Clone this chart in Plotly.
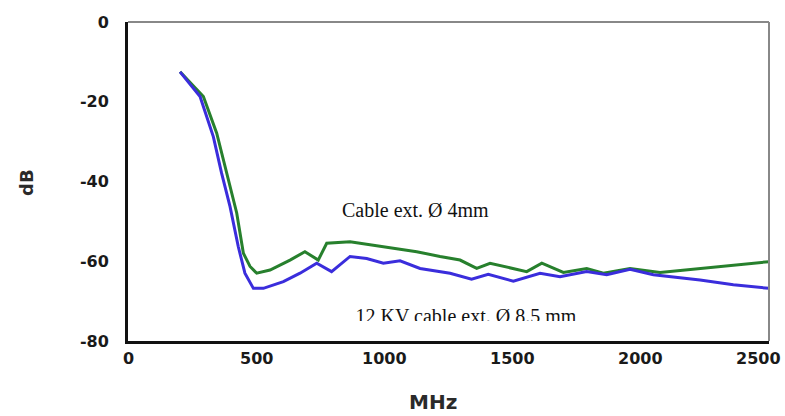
import plotly.graph_objects as go

# Shielding attenuation vs frequency for two cable types
freq_4mm = [203, 294, 346, 385, 424, 450, 476, 502, 554, 632, 690, 742, 775, 866, 996,
            1126, 1217, 1295, 1360, 1412, 1555, 1614, 1698, 1789, 1854, 1958, 2075,
            2231, 2361, 2500]
db_4mm = [-12.5, -18.7, -27.9, -37.9, -47.9, -58.0, -61.3, -63.0, -62.2, -59.7, -57.6,
          -59.7, -55.5, -55.1, -56.3, -57.6, -58.8, -59.7, -61.8, -60.5, -62.6, -60.5,
          -62.8, -61.8, -63.0, -61.8, -62.8, -61.8, -60.9, -60.1]

freq_85mm = [203, 281, 333, 365, 398, 430, 456, 489, 528, 606, 671, 736, 794, 866, 931,
             996, 1061, 1139, 1256, 1340, 1405, 1503, 1607, 1685, 1789, 1867, 1958, 2049,
             2231, 2361, 2500]
db_85mm = [-12.5, -18.7, -28.8, -37.9, -46.3, -56.3, -63.0, -66.8, -66.8, -65.1, -63.0,
           -60.5, -62.6, -58.8, -59.3, -60.5, -59.9, -61.8, -63.0, -64.5, -63.3, -65.0,
           -63.0, -63.9, -62.6, -63.4, -62.0, -63.4, -64.7, -65.9, -66.8]

x_ticks = [0, 500, 1000, 1500, 2000, 2500]
y_ticks = [0, -20, -40, -60, -80]

label_4mm = "Cable ext. Ø 4mm"
label_85mm = "12 KV cable ext. Ø 8.5 mm"

sans_bold = "DejaVu Sans"
serif = "Liberation Serif, Times New Roman, serif"

fig = go.Figure()
fig.add_trace(go.Scatter(x=freq_4mm, y=db_4mm, mode="lines",
                         line=dict(color="#27802d", width=3), name=label_4mm))
fig.add_trace(go.Scatter(x=freq_85mm, y=db_85mm, mode="lines",
                         line=dict(color="#3a2ddc", width=3), name=label_85mm))
# lower caption sits right on the bottom of its box
fig.add_trace(go.Scatter(x=[1318], y=[-74.3], mode="text", text=[label_85mm],
                         textposition="middle center", hoverinfo="skip",
                         textfont=dict(family=serif, size=20, color="#111")))

tick_font = dict(family=sans_bold, size=16, color="#1a1a1a", weight="bold")

annotations = [
    dict(x=1123, y=-47.1, xref="x", yref="y", text=label_4mm, showarrow=False,
         font=dict(family=serif, size=20, color="#111")),
    dict(x=433, y=402, xref="paper", yref="paper", text="MHz", showarrow=False,
         xanchor="center", yanchor="middle",
         font=dict(family=sans_bold, size=20, color="#2a2a2a", weight="bold")),
    dict(x=26, y=183, xref="paper", yref="paper", text="dB", showarrow=False, textangle=-90,
         xanchor="center", yanchor="middle",
         font=dict(family=sans_bold, size=18, color="#2a2a2a", weight="bold")),
]
# convert pixel-placed titles to paper coordinates
plot_l, plot_r, plot_t, plot_b = 128, 769, 22, 341
for a in annotations[1:]:
    a["x"] = (a["x"] - plot_l) / (plot_r - plot_l)
    a["y"] = (plot_b - a["y"]) / (plot_b - plot_t)

# x tick labels; the last one is pulled inside the page edge
for v in x_ticks:
    last = v == x_ticks[-1]
    annotations.append(dict(x=v, y=0, xref="x", yref="paper", text=str(v), showarrow=False,
                            xanchor="right" if last else "center", xshift=14 if last else 0,
                            yanchor="top", yshift=-6, font=tick_font))

fig.update_layout(
    width=785, height=416,
    margin=dict(l=plot_l, r=785 - plot_r, t=plot_t, b=416 - plot_b, autoexpand=False),
    paper_bgcolor="white", plot_bgcolor="white",
    showlegend=False,
    xaxis=dict(range=[0, 2500], tickvals=x_ticks, showticklabels=False, automargin=False,
               showgrid=False, zeroline=False, showline=True, linecolor="#111", linewidth=3),
    yaxis=dict(range=[-80, 0], tickvals=y_ticks, ticktext=[str(v) for v in y_ticks],
               automargin=False, showgrid=False, zeroline=False, showline=True,
               linecolor="#111", linewidth=3, tickfont=tick_font, ticklabelstandoff=13),
    shapes=[
        dict(type="line", xref="paper", yref="paper", x0=0, x1=1, y0=1, y1=1,
             line=dict(color="#888", width=2)),
        dict(type="line", xref="paper", yref="paper", x0=1, x1=1, y0=0, y1=1,
             line=dict(color="#888", width=2)),
        dict(type="rect", xref="paper", yref="y", x0=0.01, x1=0.99, y0=-75.0, y1=-78.8,
             layer="above", fillcolor="white", line=dict(width=0)),
    ],
    annotations=annotations,
)

fig.write_html("out.html")
